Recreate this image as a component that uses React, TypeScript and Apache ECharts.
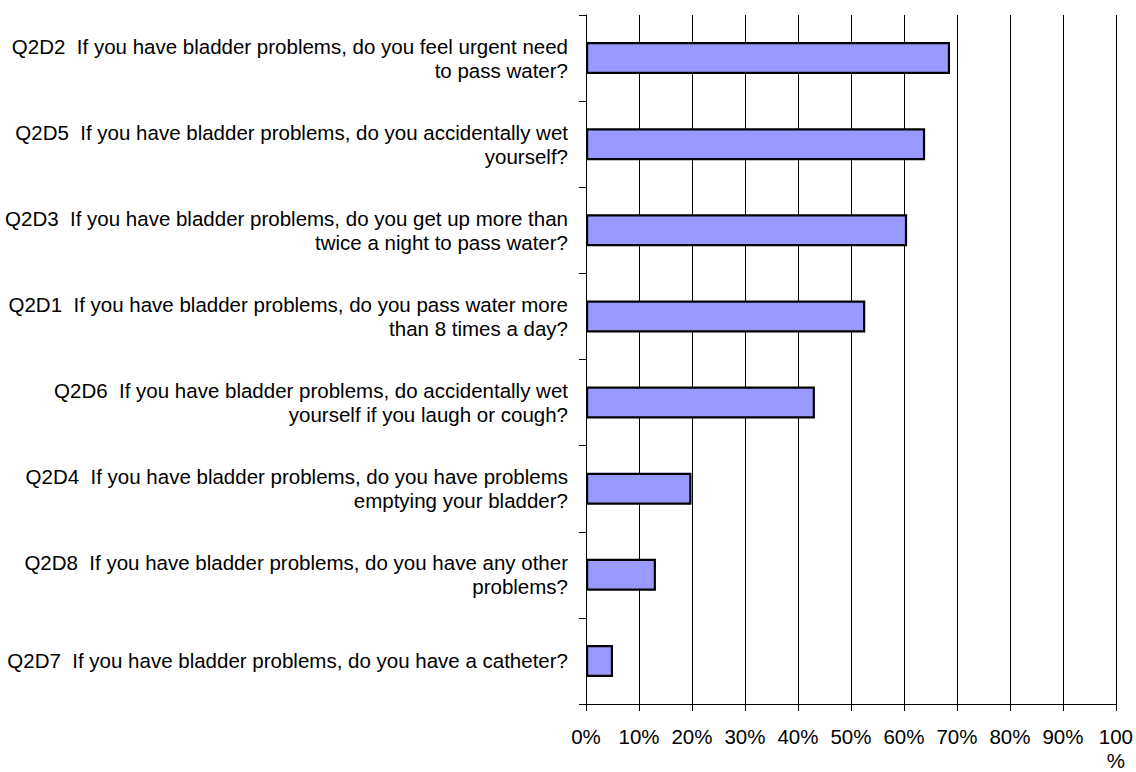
import React, { useEffect, useRef } from "react";
import * as echarts from "echarts";

const categories: string[] = [
  "Q2D2  If you have bladder problems, do you feel urgent need\nto pass water?",
  "Q2D5  If you have bladder problems, do you accidentally wet\nyourself?",
  "Q2D3  If you have bladder problems, do you get up more than\ntwice a night to pass water?",
  "Q2D1  If you have bladder problems, do you pass water more\nthan 8 times a day?",
  "Q2D6  If you have bladder problems, do accidentally wet\nyourself if you laugh or cough?",
  "Q2D4  If you have bladder problems, do you have problems\nemptying your bladder?",
  "Q2D8  If you have bladder problems, do you have any other\nproblems?",
  "Q2D7  If you have bladder problems, do you have a catheter?",
];

const values: number[] = [68.7, 64.0, 60.6, 52.7, 43.2, 19.9, 13.2, 5.1];

const FONT = "'Liberation Sans', Arial, Helvetica, sans-serif";

export default function App() {
  const ref = useRef<HTMLDivElement>(null);

  useEffect(() => {
    if (!ref.current) return;
    const chart = echarts.init(ref.current, undefined, { renderer: "svg" });
    chart.setOption({
      animation: false,
      backgroundColor: "#ffffff",
      grid: { left: 586, right: 18, top: 15, bottom: 62.5, containLabel: false },
      xAxis: {
        type: "value",
        min: 0,
        max: 100,
        interval: 10,
        axisLine: { show: true, lineStyle: { color: "#000", width: 1 } },
        axisTick: { show: true, length: 7, lineStyle: { color: "#000", width: 1 } },
        splitLine: { show: true, lineStyle: { color: "#000", width: 1 } },
        axisLabel: {
          margin: 20,
          fontFamily: FONT,
          fontSize: 20.5,
          color: "#000",
          lineHeight: 24,
          formatter: (v: number) => (v === 100 ? "100\n%" : v + "%"),
        },
      },
      yAxis: {
        type: "category",
        inverse: true,
        data: categories,
        axisLine: { show: true, lineStyle: { color: "#000", width: 1 } },
        axisTick: { show: true, length: 7, lineStyle: { color: "#000", width: 1 } },
        axisLabel: {
          margin: 18,
          fontFamily: FONT,
          fontSize: 20.5,
          lineHeight: 24,
          color: "#000",
          align: "right",
        },
      },
      series: [
        {
          type: "bar",
          data: values,
          barWidth: 32,
          itemStyle: {
            color: "#9999FF",
            borderColor: "#000",
            borderWidth: 2.2,
          },
        },
      ],
    });
    return () => chart.dispose();
  }, []);

  return (
    <div
      ref={ref}
      style={{ position: "absolute", left: 0, top: 0, width: 1136, height: 772 }}
    />
  );
}
